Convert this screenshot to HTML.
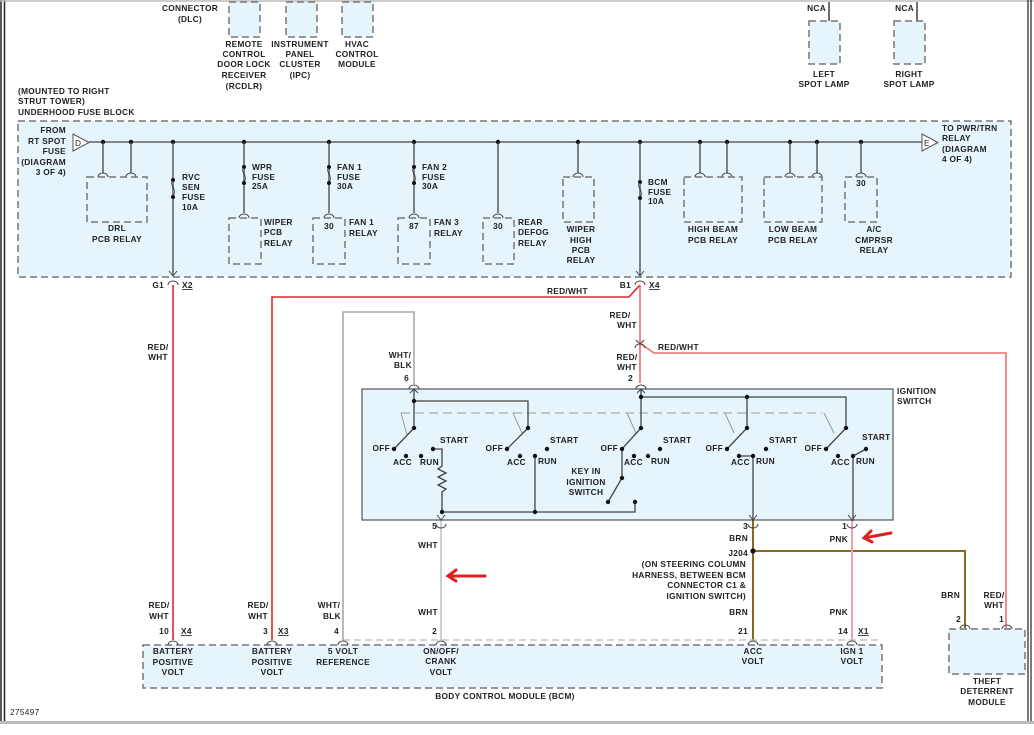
<!DOCTYPE html>
<html><head><meta charset="utf-8"><style>
html,body{margin:0;padding:0;background:#fff;}
svg{display:block;}
text{font-family:"Liberation Sans",sans-serif;font-size:8.3px;fill:#222;font-weight:bold;letter-spacing:0.3px;}
.m{text-anchor:middle}.e{text-anchor:end}
.d{fill:#e6f4fb;stroke:#777;stroke-width:1.5;stroke-dasharray:7,4;}
.w{stroke:#444;stroke-width:1.3;fill:none;}
.c{stroke:#444;stroke-width:1;fill:none;}
</style></head><body>
<svg width="1034" height="735" viewBox="0 0 1034 735" xmlns="http://www.w3.org/2000/svg">
<!-- frame -->
<line x1="1" y1="0" x2="1" y2="722" stroke="#222" stroke-width="1.5"/>
<line x1="4.5" y1="0" x2="4.5" y2="722" stroke="#222" stroke-width="1.5"/>
<line x1="0" y1="1" x2="1034" y2="1" stroke="#bbb" stroke-width="1.5"/>
<line x1="1028" y1="0" x2="1028" y2="722" stroke="#222" stroke-width="1.2"/>
<line x1="1031" y1="0" x2="1031" y2="722" stroke="#222" stroke-width="1.2"/>
<rect x="0" y="721" width="1034" height="3" fill="#bbb"/>
<text x="10" y="715" style="font-weight:normal">275497</text>

<!-- top components -->
<text x="190" y="11" class="m">CONNECTOR</text><text x="190" y="22" class="m">(DLC)</text>
<rect x="229" y="2" width="31" height="35" class="d"/>
<rect x="286" y="2" width="31" height="35" class="d"/>
<rect x="342" y="2" width="31" height="35" class="d"/>
<text x="244" y="47" class="m">REMOTE</text><text x="244" y="57" class="m">CONTROL</text><text x="244" y="67" class="m">DOOR LOCK</text><text x="244" y="78" class="m">RECEIVER</text><text x="244" y="89" class="m">(RCDLR)</text>
<text x="300" y="47" class="m">INSTRUMENT</text><text x="300" y="57" class="m">PANEL</text><text x="300" y="67" class="m">CLUSTER</text><text x="300" y="78" class="m">(IPC)</text>
<text x="357" y="47" class="m">HVAC</text><text x="357" y="57" class="m">CONTROL</text><text x="357" y="67" class="m">MODULE</text>
<line x1="829" y1="2" x2="829" y2="21" stroke="#222" stroke-width="1.3"/>
<line x1="917" y1="2" x2="917" y2="21" stroke="#222" stroke-width="1.3"/>
<text x="826" y="11" class="e">NCA</text><text x="914" y="11" class="e">NCA</text>
<rect x="809" y="21" width="31" height="43" class="d"/>
<rect x="894" y="21" width="31" height="43" class="d"/>
<text x="824" y="77" class="m">LEFT</text><text x="824" y="87" class="m">SPOT LAMP</text>
<text x="909" y="77" class="m">RIGHT</text><text x="909" y="87" class="m">SPOT LAMP</text>

<!-- fuse block -->
<text x="18" y="94">(MOUNTED TO RIGHT</text><text x="18" y="104">STRUT TOWER)</text><text x="18" y="115">UNDERHOOD FUSE BLOCK</text>
<rect x="18" y="121" width="993" height="156" class="d"/>
<text x="66" y="133" class="e">FROM</text><text x="66" y="144" class="e">RT SPOT</text><text x="66" y="154" class="e">FUSE</text><text x="66" y="165" class="e">(DIAGRAM</text><text x="66" y="175" class="e">3 OF 4)</text>
<polygon points="73,134 73,151 89,142.5" fill="#fff" stroke="#555"/><text x="75" y="146" style="font-weight:normal">D</text>
<line x1="89" y1="142" x2="922" y2="142" class="w"/>
<polygon points="922,134 922,151 938,142.5" fill="#fff" stroke="#555"/><text x="924" y="146" style="font-weight:normal">E</text>
<text x="942" y="131">TO PWR/TRN</text><text x="942" y="141">RELAY</text><text x="942" y="152">(DIAGRAM</text><text x="942" y="162">4 OF 4)</text>
<g fill="#111">
<circle cx="103" cy="142" r="2.2"/><circle cx="131" cy="142" r="2.2"/><circle cx="173" cy="142" r="2.2"/><circle cx="244" cy="142" r="2.2"/><circle cx="329" cy="142" r="2.2"/><circle cx="414" cy="142" r="2.2"/><circle cx="498" cy="142" r="2.2"/><circle cx="578" cy="142" r="2.2"/><circle cx="640" cy="142" r="2.2"/><circle cx="700" cy="142" r="2.2"/><circle cx="727" cy="142" r="2.2"/><circle cx="790" cy="142" r="2.2"/><circle cx="817" cy="142" r="2.2"/><circle cx="861" cy="142" r="2.2"/>
</g>
<!-- drops -->
<g class="w">
<path d="M103 142V173M131 142V173M244 142V213M329 142V213M414 142V213M498 142V213M578 142V173M700 142V173M727 142V173M790 142V173M817 142V173M861 142V173"/>
<path d="M173 142V275M640 142V275"/>
</g>
<!-- female arcs -->
<g class="c">
<path d="M98 177a5 4 0 0 1 10 0M126 177a5 4 0 0 1 10 0M239 218a5 4 0 0 1 10 0M324 218a5 4 0 0 1 10 0M409 218a5 4 0 0 1 10 0M493 218a5 4 0 0 1 10 0M573 177a5 4 0 0 1 10 0M695 177a5 4 0 0 1 10 0M722 177a5 4 0 0 1 10 0M785 177a5 4 0 0 1 10 0M812 177a5 4 0 0 1 10 0M856 177a5 4 0 0 1 10 0"/>
</g>
<!-- fuses -->
<g fill="#111">
<circle cx="173" cy="180" r="2"/><circle cx="173" cy="197" r="2"/><circle cx="244" cy="167" r="2"/><circle cx="244" cy="183" r="2"/><circle cx="329" cy="167" r="2"/><circle cx="329" cy="183" r="2"/><circle cx="414" cy="167" r="2"/><circle cx="414" cy="183" r="2"/><circle cx="640" cy="182" r="2"/><circle cx="640" cy="198" r="2"/>
</g>
<g fill="#e6f4fb" stroke="#333" stroke-width="1.2">
<path d="M173 181c-4 3 4 8 0 15"/><path d="M244 168c-4 3 4 8 0 14"/><path d="M329 168c-4 3 4 8 0 14"/><path d="M414 168c-4 3 4 8 0 14"/><path d="M640 183c-4 3 4 8 0 14"/>
</g>
<text x="182" y="180">RVC</text><text x="182" y="190">SEN</text><text x="182" y="200">FUSE</text><text x="182" y="210">10A</text>
<text x="252" y="170">WPR</text><text x="252" y="180">FUSE</text><text x="252" y="189">25A</text>
<text x="337" y="170">FAN 1</text><text x="337" y="180">FUSE</text><text x="337" y="189">30A</text>
<text x="422" y="170">FAN 2</text><text x="422" y="180">FUSE</text><text x="422" y="189">30A</text>
<text x="648" y="185">BCM</text><text x="648" y="195">FUSE</text><text x="648" y="204">10A</text>
<!-- relays -->
<rect x="87" y="177" width="60" height="45" class="d"/><text x="117" y="231" class="m">DRL</text><text x="117" y="242" class="m">PCB RELAY</text>
<rect x="229" y="218" width="32" height="46" class="d"/><text x="264" y="225">WIPER</text><text x="264" y="235">PCB</text><text x="264" y="246">RELAY</text>
<rect x="313" y="218" width="32" height="46" class="d"/><text x="329" y="229" class="m">30</text><text x="349" y="225">FAN 1</text><text x="349" y="236">RELAY</text>
<rect x="398" y="218" width="32" height="46" class="d"/><text x="414" y="229" class="m">87</text><text x="434" y="225">FAN 3</text><text x="434" y="236">RELAY</text>
<rect x="483" y="218" width="31" height="46" class="d"/><text x="498" y="229" class="m">30</text><text x="518" y="225">REAR</text><text x="518" y="235">DEFOG</text><text x="518" y="246">RELAY</text>
<rect x="563" y="177" width="31" height="45" class="d"/><text x="581" y="232" class="m">WIPER</text><text x="581" y="243" class="m">HIGH</text><text x="581" y="253" class="m">PCB</text><text x="581" y="263" class="m">RELAY</text>
<rect x="684" y="177" width="58" height="45" class="d"/><text x="713" y="232" class="m">HIGH BEAM</text><text x="713" y="243" class="m">PCB RELAY</text>
<rect x="764" y="177" width="58" height="45" class="d"/><text x="793" y="232" class="m">LOW BEAM</text><text x="793" y="243" class="m">PCB RELAY</text>
<rect x="845" y="177" width="32" height="45" class="d"/><text x="861" y="186" class="m">30</text><text x="874" y="232" class="m">A/C</text><text x="874" y="243" class="m">CMPRSR</text><text x="874" y="253" class="m">RELAY</text>

<!-- connectors below fuse block -->
<g class="c"><path d="M169 271l4 5 4-5M636 271l4 5 4-5M168 285a5 4 0 0 1 10 0M635 285a5 4 0 0 1 10 0"/></g>
<text x="164" y="288" class="e">G1</text><text x="182" y="288" style="text-decoration:underline">X2</text>
<text x="631" y="288" class="e">B1</text><text x="649" y="288" style="text-decoration:underline">X4</text>

<!-- wires -->
<g fill="none" stroke-width="1.6">
<path d="M173 285V640" stroke="#e0262b"/>
<path d="M640 285L629 297H272V640" stroke="#e0262b"/>
<path d="M640 285V383" stroke="#e87070"/>
<path d="M641 344L654 353H1006V628" stroke="#e87070"/>
<path d="M414 384V312H343V640" stroke="#aaa"/>
<path d="M441 519V640" stroke="#d0d0d0" stroke-width="2"/>
<path d="M753 519V640" stroke="#8a6a1c" stroke-width="2"/>
<path d="M753 551H965V628" stroke="#8a6a1c" stroke-width="2"/>
<path d="M852 519V640" stroke="#f0a0b0" stroke-width="2"/>
</g>
<circle cx="753" cy="551" r="2.6" fill="#111"/>
<g class="c"><path d="M636 340l4 4 4-4M635 348a5 4 0 0 1 10 0"/></g>
<text x="547" y="294">RED/WHT</text>
<text x="620" y="318" class="e" style="text-anchor:middle">RED/</text><text x="627" y="328" class="m">WHT</text>
<text x="627" y="360" class="m">RED/</text><text x="627" y="370" class="m">WHT</text><text x="633" y="381" class="e">2</text>
<text x="658" y="350">RED/WHT</text>
<text x="158" y="350" class="m">RED/</text><text x="158" y="360" class="m">WHT</text>
<text x="400" y="358" class="m">WHT/</text><text x="403" y="368" class="m">BLK</text><text x="409" y="381" class="e">6</text>

<!-- ignition switch -->
<text x="897" y="394">IGNITION</text><text x="897" y="404">SWITCH</text>
<rect x="362" y="389" width="531" height="131" fill="#e6f4fb" stroke="#555" stroke-width="1.2"/>
<g class="c"><path d="M409 389a5 4 0 0 1 10 0M636 389a5 4 0 0 1 10 0M437 515l4 5 4-5M749 515l4 5 4-5M848 515l4 5 4-5M410 393l4-4 4 4M637 393l4-4 4 4"/></g>
<path d="M401 413H822" stroke="#999" stroke-dasharray="9,5" fill="none"/>
<g stroke="#999" fill="none"><path d="M401 413l6 22M513 413l9 20M627 413l9 20M725 413l9 20M824 413l10 20"/></g>
<g class="w">
<path d="M414 389V428L394 449"/>
<path d="M414 401H528V428L507 449"/>
<path d="M433 449H442V466l-4 3 8 4-8 4 8 4-8 4 8 4-4 3V512H635V502"/>
<path d="M535 456V512"/>
<path d="M641 389V428L622 449V478L608 502"/>
<path d="M641 397H846V428L826 449"/>
<path d="M747 397V428L727 449"/>
<path d="M739 456H753V521"/>
<path d="M853 521V456L866 449"/>
</g>
<g fill="#111">
<circle cx="414" cy="401" r="2.2"/><circle cx="414" cy="428" r="2.2"/><circle cx="394" cy="449" r="2.2"/><circle cx="406" cy="456" r="2.2"/><circle cx="421" cy="456" r="2.2"/><circle cx="433" cy="449" r="2.2"/><circle cx="442" cy="512" r="2.2"/>
<circle cx="528" cy="428" r="2.2"/><circle cx="507" cy="449" r="2.2"/><circle cx="520" cy="456" r="2.2"/><circle cx="535" cy="456" r="2.2"/><circle cx="547" cy="449" r="2.2"/><circle cx="535" cy="512" r="2.2"/>
<circle cx="641" cy="397" r="2.2"/><circle cx="641" cy="428" r="2.2"/><circle cx="622" cy="449" r="2.2"/><circle cx="634" cy="456" r="2.2"/><circle cx="648" cy="456" r="2.2"/><circle cx="660" cy="449" r="2.2"/><circle cx="622" cy="478" r="2.2"/><circle cx="608" cy="502" r="2.2"/><circle cx="635" cy="502" r="2.2"/>
<circle cx="747" cy="397" r="2.2"/><circle cx="747" cy="428" r="2.2"/><circle cx="727" cy="449" r="2.2"/><circle cx="739" cy="456" r="2.2"/><circle cx="753" cy="456" r="2.2"/><circle cx="766" cy="449" r="2.2"/>
<circle cx="846" cy="428" r="2.2"/><circle cx="826" cy="449" r="2.2"/><circle cx="838" cy="456" r="2.2"/><circle cx="853" cy="456" r="2.2"/><circle cx="866" cy="449" r="2.2"/>
</g>
<text x="390" y="451" class="e">OFF</text><text x="393" y="465">ACC</text><text x="420" y="465">RUN</text><text x="440" y="443">START</text>
<text x="503" y="451" class="e">OFF</text><text x="507" y="465">ACC</text><text x="538" y="464">RUN</text><text x="550" y="443">START</text>
<text x="618" y="451" class="e">OFF</text><text x="624" y="465">ACC</text><text x="651" y="464">RUN</text><text x="663" y="443">START</text>
<text x="723" y="451" class="e">OFF</text><text x="731" y="465">ACC</text><text x="756" y="464">RUN</text><text x="769" y="443">START</text>
<text x="822" y="451" class="e">OFF</text><text x="831" y="465">ACC</text><text x="856" y="464">RUN</text><text x="862" y="440">START</text>
<text x="586" y="474" class="m">KEY IN</text><text x="586" y="485" class="m">IGNITION</text><text x="586" y="495" class="m">SWITCH</text>

<!-- below switch labels -->
<g class="c"><path d="M436 524a5 4 0 0 0 10 0M748 524a5 4 0 0 0 10 0M847 524a5 4 0 0 0 10 0"/></g>
<text x="437" y="529" class="e">5</text><text x="748" y="529" class="e">3</text><text x="847" y="529" class="e">1</text>
<text x="428" y="548" class="m">WHT</text><text x="428" y="615" class="m">WHT</text>
<text x="748" y="541" class="e">BRN</text><text x="748" y="556" class="e">J204</text>
<text x="746" y="567" class="e">(ON STEERING COLUMN</text><text x="746" y="578" class="e">HARNESS, BETWEEN BCM</text><text x="746" y="588" class="e">CONNECTOR C1 &amp;</text><text x="746" y="599" class="e">IGNITION SWITCH)</text>
<text x="748" y="615" class="e">BRN</text>
<text x="848" y="542" class="e">PNK</text><text x="848" y="615" class="e">PNK</text>
<text x="960" y="598" class="e">BRN</text>
<text x="994" y="598" class="m">RED/</text><text x="994" y="608" class="m">WHT</text>
<!-- red arrows -->
<g stroke="#e0201f" stroke-width="3" fill="none" stroke-linecap="round">
<path d="M485 576H448M456 570l-8 6 8 5"/>
<path d="M891 533l-27 5M871 531l-7 7 8 4"/>
</g>

<!-- BCM -->
<text x="159" y="608" class="m">RED/</text><text x="159" y="619" class="m">WHT</text>
<text x="258" y="608" class="m">RED/</text><text x="258" y="619" class="m">WHT</text>
<text x="329" y="608" class="m">WHT/</text><text x="332" y="619" class="m">BLK</text>
<text x="169" y="634" class="e">10</text><text x="181" y="634" style="text-decoration:underline">X4</text>
<text x="268" y="634" class="e">3</text><text x="278" y="634" style="text-decoration:underline">X3</text>
<text x="339" y="634" class="e">4</text><text x="437" y="634" class="e">2</text>
<text x="748" y="634" class="e">21</text><text x="848" y="634" class="e">14</text><text x="858" y="634" style="text-decoration:underline">X1</text>
<path d="M343 640H882" stroke="#bbb" stroke-dasharray="7,4" stroke-width="1.3"/>
<rect x="143" y="645" width="739" height="43" class="d"/>
<g class="c"><path d="M168 645a5 4 0 0 1 10 0M267 645a5 4 0 0 1 10 0M338 645a5 4 0 0 1 10 0M436 645a5 4 0 0 1 10 0M748 645a5 4 0 0 1 10 0M847 645a5 4 0 0 1 10 0M960 629a5 4 0 0 1 10 0M1002 629a5 4 0 0 1 10 0"/></g>
<text x="173" y="654" class="m">BATTERY</text><text x="173" y="665" class="m">POSITIVE</text><text x="173" y="675" class="m">VOLT</text>
<text x="272" y="654" class="m">BATTERY</text><text x="272" y="665" class="m">POSITIVE</text><text x="272" y="675" class="m">VOLT</text>
<text x="343" y="654" class="m">5 VOLT</text><text x="343" y="665" class="m">REFERENCE</text>
<text x="441" y="654" class="m">ON/OFF/</text><text x="441" y="664" class="m">CRANK</text><text x="441" y="675" class="m">VOLT</text>
<text x="753" y="654" class="m">ACC</text><text x="753" y="664" class="m">VOLT</text>
<text x="852" y="654" class="m">IGN 1</text><text x="852" y="664" class="m">VOLT</text>
<text x="505" y="699" class="m">BODY CONTROL MODULE (BCM)</text>
<text x="961" y="622" class="e">2</text><text x="1004" y="622" class="e">1</text>
<rect x="949" y="629" width="76" height="45" class="d"/>
<text x="987" y="684" class="m">THEFT</text><text x="987" y="694" class="m">DETERRENT</text><text x="987" y="705" class="m">MODULE</text>
</svg>
</body></html>
